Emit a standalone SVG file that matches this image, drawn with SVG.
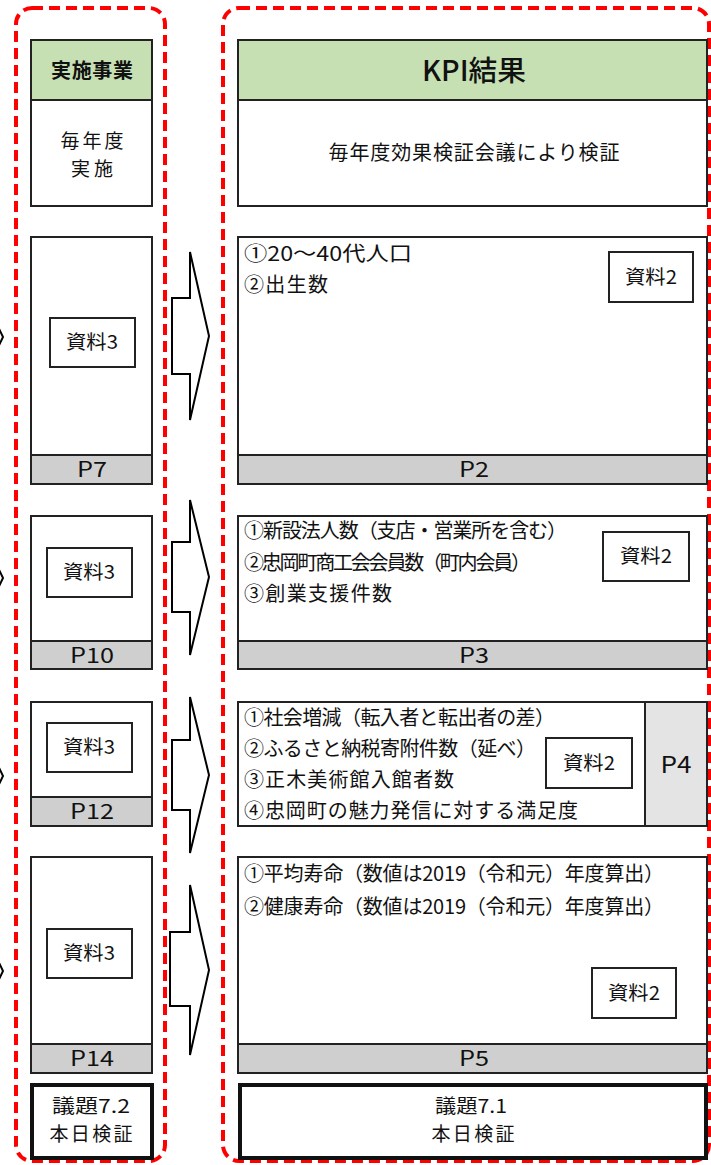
<svg xmlns="http://www.w3.org/2000/svg" width="711" height="1165" viewBox="0 0 711 1165">
<style>
text{font-family:"Noto Sans CJK JP","Noto Sans",sans-serif;fill:#111}
.box{fill:#fff;stroke:#222;stroke-width:2}
.hdr{fill:#c6e0b4;stroke:#222;stroke-width:2}
.gray{fill:#d0cfd0;stroke:#222;stroke-width:2}
.lgray{fill:#e4e4e4;stroke:#222;stroke-width:2}
.thick{fill:#fff;stroke:#111;stroke-width:4}
.dash{fill:none;stroke:#ff0000;stroke-width:4;stroke-dasharray:11 6}
.arr{fill:#fff;stroke:#000;stroke-width:2;stroke-linejoin:miter}
.c{text-anchor:middle}
.f20{font-size:20px}
.f19{font-size:19px}
.s{font-size:19px}
.p{font-size:21px}
</style>
<rect width="711" height="1165" fill="#fff"/>
<g id="frames">
<rect class="dash" x="16" y="8" width="149" height="1153" rx="16"/>
<rect class="dash" x="223" y="8" width="486" height="1153" rx="16"/>
</g>
<g id="connectors">
<polyline class="arr" fill="none" points="-10,310 3,337 -10,364"/>
<polyline class="arr" fill="none" points="-10,551 3,578 -10,605"/>
<polyline class="arr" fill="none" points="-10,749 3,776 -10,803"/>
<polyline class="arr" fill="none" points="-10,944 3,971 -10,998"/>
<polygon class="arr" points="172,298 190,298 190,252 209,336 190,420 190,374 172,374"/>
<polygon class="arr" points="172,542 190,542 190,500 209,577 190,655 190,612 172,612"/>
<polygon class="arr" points="172,740 190,740 190,697 209,775 190,853 190,810 172,810"/>
<polygon class="arr" points="170,932 190,932 190,885 209,970 190,1055 190,1006 170,1006"/>
</g>
<g id="left-header">
<rect class="hdr" x="31" y="40" width="121" height="60"/>
<text class="c" x="92" y="78" font-size="20" font-weight="bold" textLength="82">実施事業</text>
<rect class="box" x="31" y="100" width="121" height="106"/>
<text class="c s" x="92" y="148"><tspan x="92" y="148" textLength="63">毎年度</tspan><tspan x="92" y="176" textLength="42">実施</tspan></text>
</g>
<g id="right-header">
<rect class="hdr" x="238" y="40" width="469" height="60"/>
<text class="c" x="474" y="81" font-size="28" font-weight="500" textLength="104" lengthAdjust="spacingAndGlyphs">KPI結果</text>
<rect class="box" x="238" y="100" width="469" height="106"/>
<text class="c f20" x="474" y="160" textLength="291">毎年度効果検証会議により検証</text>
</g>
<g id="left-1">
<rect class="box" x="31" y="237" width="121" height="247"/>
<rect class="gray" x="31" y="455" width="121" height="29"/>
<text class="c p" x="92" y="477" textLength="30" lengthAdjust="spacingAndGlyphs">P7</text>
<rect class="box" x="50" y="318" width="85" height="49"/>
<text class="c f19" x="92" y="349" textLength="52" lengthAdjust="spacingAndGlyphs">資料3</text>
</g>
<g id="right-1">
<rect class="box" x="238" y="237" width="469" height="247"/>
<rect class="gray" x="238" y="455" width="469" height="29"/>
<text class="c p" x="474" y="477" textLength="30" lengthAdjust="spacingAndGlyphs">P2</text>
<text class="f20" x="244" y="261" textLength="168" lengthAdjust="spacingAndGlyphs">①20～40代人口</text>
<text class="f20" x="244" y="292" textLength="84">②出生数</text>
<rect class="box" x="609" y="252" width="84" height="50"/>
<text class="c f19" x="651" y="284" textLength="52" lengthAdjust="spacingAndGlyphs">資料2</text>
</g>
<g id="left-2">
<rect class="box" x="31" y="516" width="121" height="153"/>
<rect class="gray" x="31" y="641" width="121" height="28"/>
<text class="c p" x="92" y="663" textLength="44" lengthAdjust="spacingAndGlyphs">P10</text>
<rect class="box" x="47" y="548" width="85" height="49"/>
<text class="c f19" x="89" y="579" textLength="52" lengthAdjust="spacingAndGlyphs">資料3</text>
</g>
<g id="right-2">
<rect class="box" x="238" y="516" width="469" height="153"/>
<rect class="gray" x="238" y="641" width="469" height="28"/>
<text class="c p" x="474" y="663" textLength="30" lengthAdjust="spacingAndGlyphs">P3</text>
<text class="f20" x="244" y="538" textLength="323">①新設法人数（支店・営業所を含む）</text>
<text class="f20" x="244" y="570" textLength="287">②忠岡町商工会会員数（町内会員）</text>
<text class="f20" x="244" y="601" textLength="148">③創業支援件数</text>
<rect class="box" x="603" y="532" width="86" height="49"/>
<text class="c f19" x="646" y="563" textLength="52" lengthAdjust="spacingAndGlyphs">資料2</text>
</g>
<g id="left-3">
<rect class="box" x="31" y="702" width="121" height="124"/>
<rect class="gray" x="31" y="797" width="121" height="29"/>
<text class="c p" x="92" y="819" textLength="44" lengthAdjust="spacingAndGlyphs">P12</text>
<rect class="box" x="47" y="723" width="85" height="49"/>
<text class="c f19" x="89" y="754" textLength="52" lengthAdjust="spacingAndGlyphs">資料3</text>
</g>
<g id="right-3">
<rect class="box" x="238" y="702" width="469" height="124"/>
<rect class="lgray" x="645" y="702" width="62" height="124"/>
<text class="c" x="676" y="773" font-size="23" textLength="31" lengthAdjust="spacingAndGlyphs">P4</text>
<text class="f20" x="244" y="725" textLength="311">①社会増減（転入者と転出者の差）</text>
<text class="f20" x="244" y="756" textLength="292">②ふるさと納税寄附件数（延べ）</text>
<text class="f20" x="244" y="787" textLength="210">③正木美術館入館者数</text>
<text class="f20" x="244" y="818" textLength="334">④忠岡町の魅力発信に対する満足度</text>
<rect class="box" x="546" y="738" width="86" height="50"/>
<text class="c f19" x="589" y="770" textLength="52" lengthAdjust="spacingAndGlyphs">資料2</text>
</g>
<g id="left-4">
<rect class="box" x="31" y="857" width="121" height="216"/>
<rect class="gray" x="31" y="1044" width="121" height="29"/>
<text class="c p" x="92" y="1066" textLength="44" lengthAdjust="spacingAndGlyphs">P14</text>
<rect class="box" x="47" y="929" width="85" height="49"/>
<text class="c f19" x="89" y="960" textLength="52" lengthAdjust="spacingAndGlyphs">資料3</text>
</g>
<g id="right-4">
<rect class="box" x="238" y="857" width="469" height="216"/>
<rect class="gray" x="238" y="1044" width="469" height="29"/>
<text class="c p" x="474" y="1066" textLength="30" lengthAdjust="spacingAndGlyphs">P5</text>
<text class="f20" x="244" y="881" textLength="420">①平均寿命（数値は2019（令和元）年度算出）</text>
<text class="f20" x="244" y="914" textLength="420">②健康寿命（数値は2019（令和元）年度算出）</text>
<rect class="box" x="592" y="968" width="84" height="50"/>
<text class="c f19" x="634" y="1000" textLength="52" lengthAdjust="spacingAndGlyphs">資料2</text>
</g>
<g id="left-footer">
<rect class="thick" x="32" y="1085" width="120" height="73"/>
<text class="c s" x="91" y="1113"><tspan x="91" y="1113" textLength="78" lengthAdjust="spacingAndGlyphs">議題7.2</tspan><tspan x="91" y="1141" textLength="83">本日検証</tspan></text>
</g>
<g id="right-footer">
<rect class="thick" x="240" y="1085" width="466" height="73"/>
<text class="c s" x="471" y="1113"><tspan x="471" y="1113" textLength="72" lengthAdjust="spacingAndGlyphs">議題7.1</tspan><tspan x="473" y="1141" textLength="83">本日検証</tspan></text>
</g>
</svg>
